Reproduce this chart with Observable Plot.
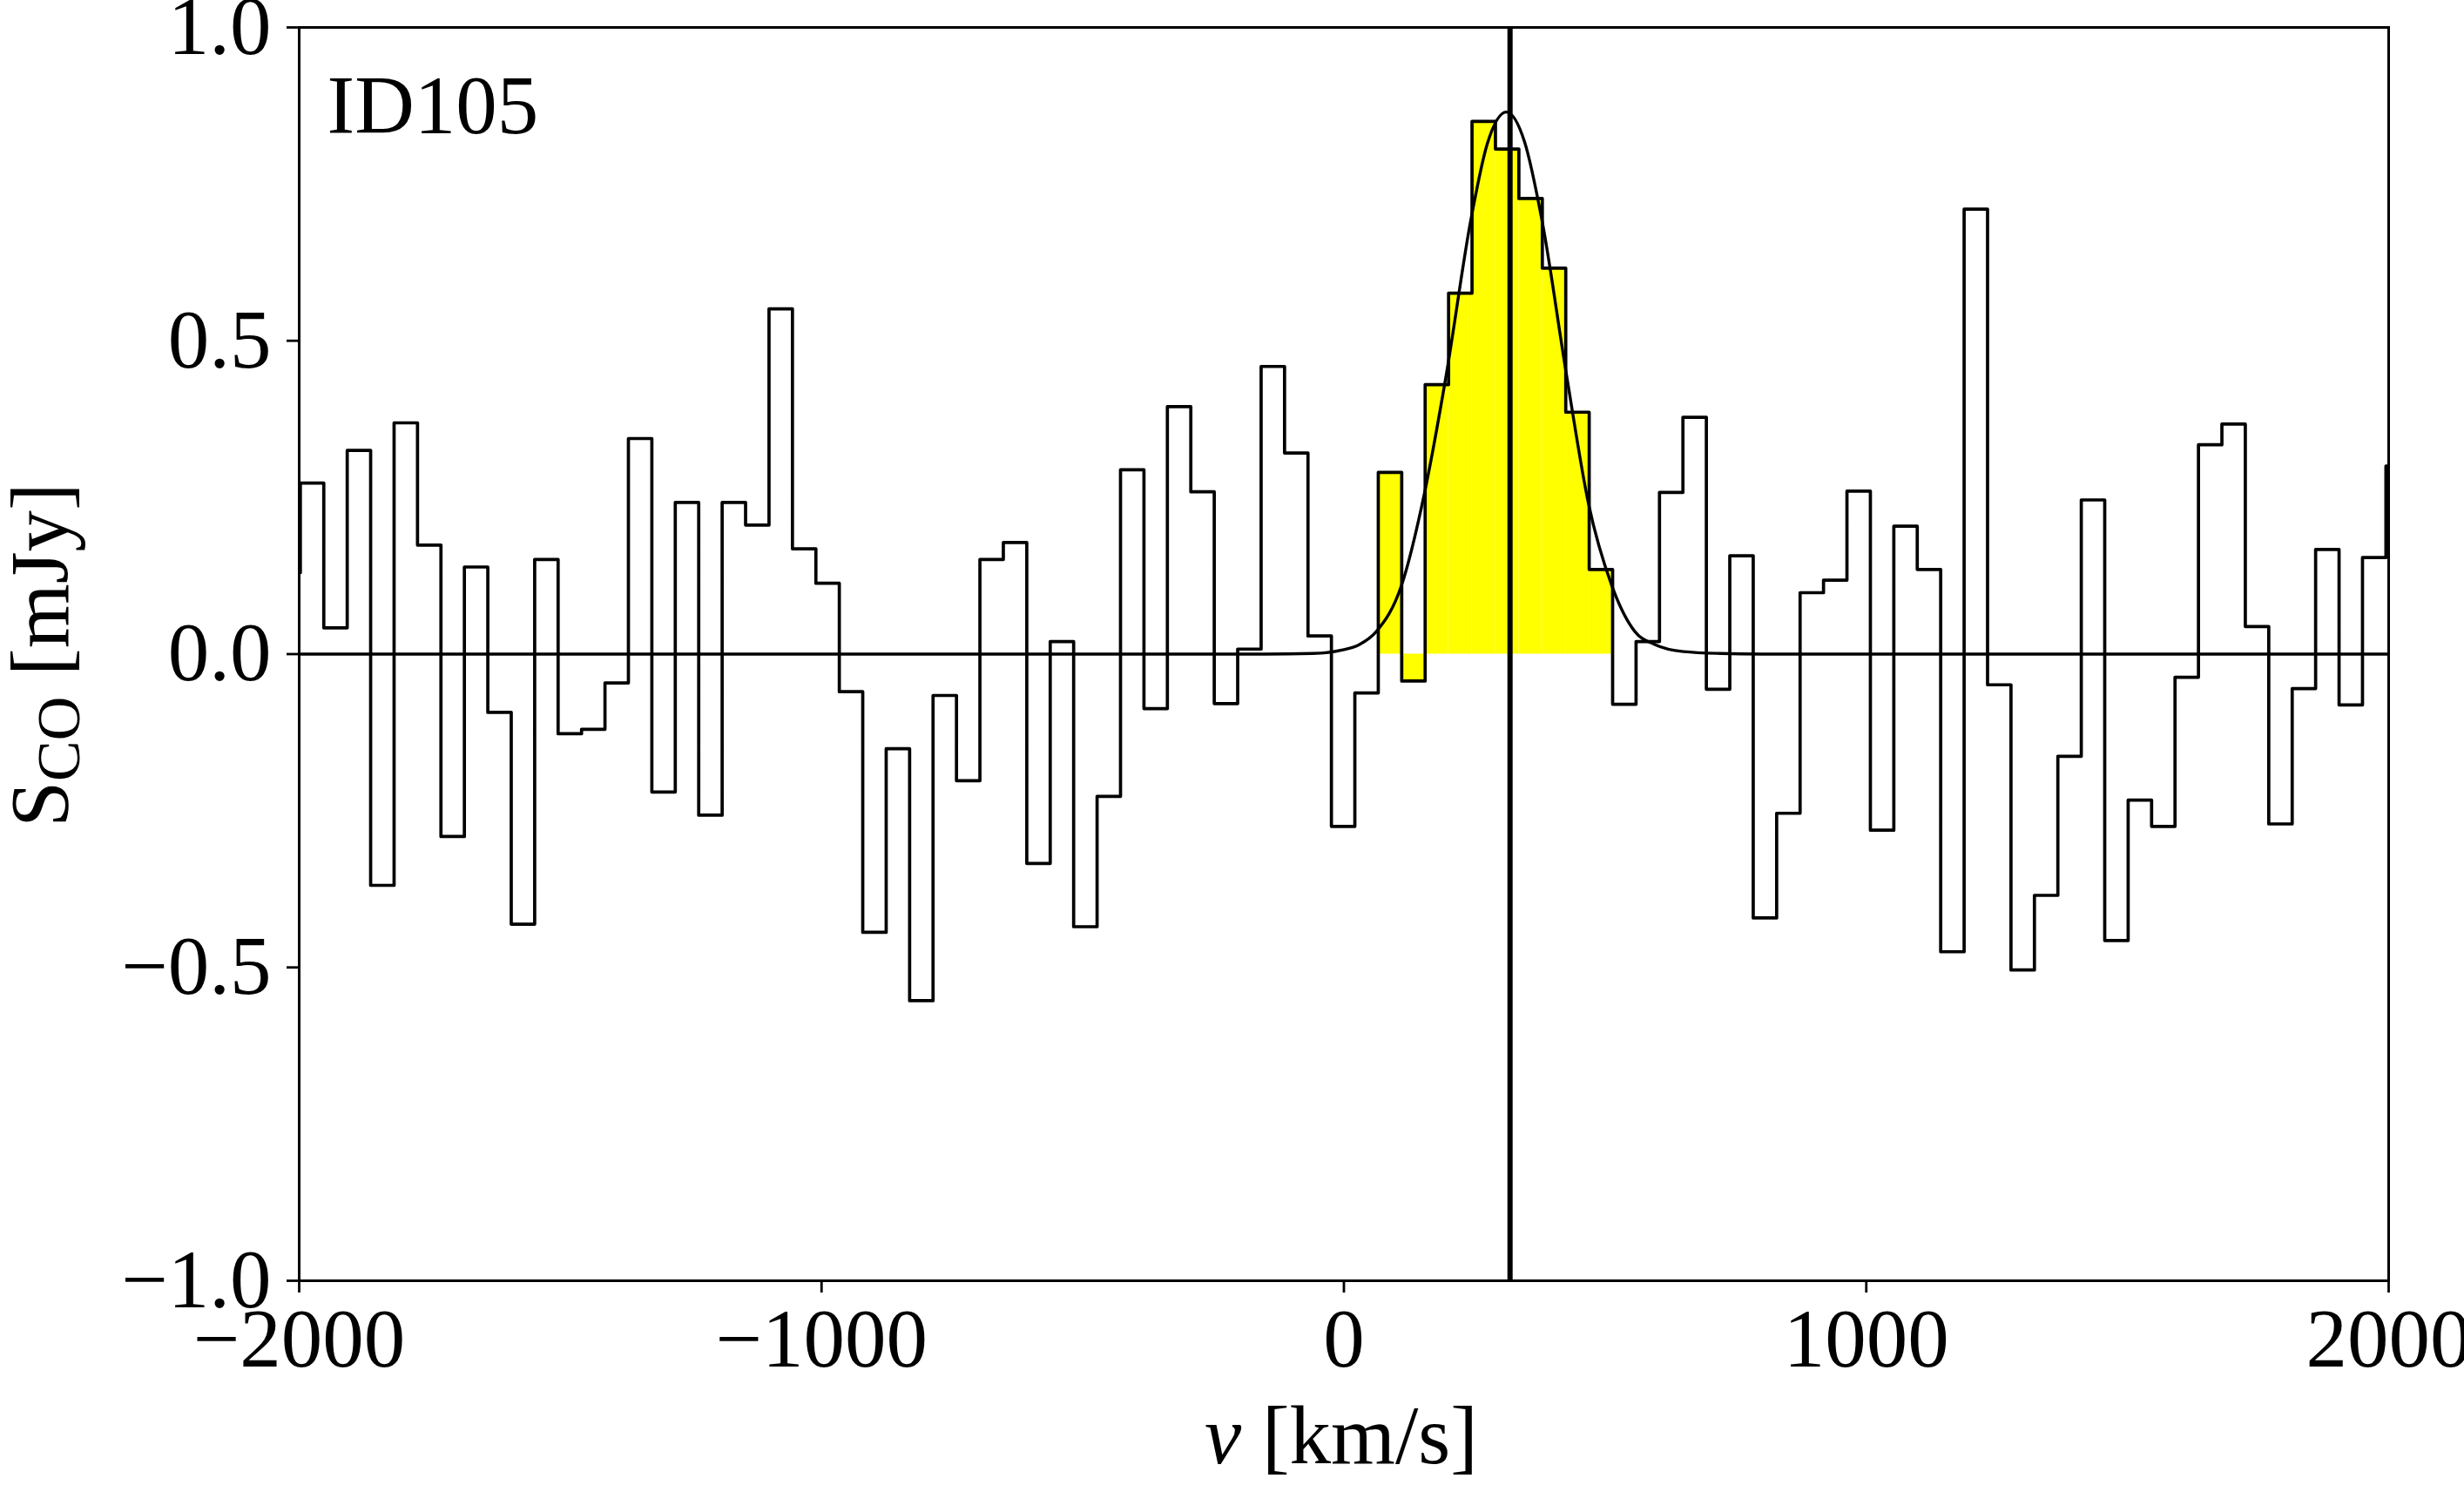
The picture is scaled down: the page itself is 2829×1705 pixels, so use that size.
<!DOCTYPE html>
<html>
<head>
<meta charset="utf-8">
<script src="https://cdn.jsdelivr.net/npm/d3@7"></script>
<script src="https://cdn.jsdelivr.net/npm/@observablehq/plot@0.6"></script>
<style>
  html, body { margin: 0; padding: 0; background: #fff; overflow: hidden; }
  svg { display: block; }
</style>
</head>
<body>
<div id="chart"></div>
<script>
// ---- data ----
const sourceName = "ID105";
// channel grid of the spectrum (km/s): centre of first channel and channel width
const channelStart = -2020.2;
const channelWidth = 44.86;
// flux density per channel (mJy)
const flux = [
  0.130, 0.273, 0.042, 0.325, -0.369, 0.369, 0.174, -0.291, 0.139, -0.093,
  -0.431, 0.151, -0.127, -0.120, -0.046, 0.344, -0.220, 0.242, -0.257, 0.242,
  0.206, 0.551, 0.168, 0.113, -0.060, -0.444, -0.151, -0.553, -0.066, -0.202,
  0.151, 0.178, -0.334, 0.020, -0.435, -0.227, 0.294, -0.087, 0.395, 0.259,
  -0.079, 0.008, 0.459, 0.321, 0.029, -0.275, -0.062, 0.290, -0.043, 0.430,
  0.576, 0.850, 0.806, 0.727, 0.616, 0.386, 0.135, -0.080, 0.020, 0.258,
  0.378, -0.056, 0.157, -0.421, -0.254, 0.098, 0.118, 0.260, -0.281, 0.204,
  0.135, -0.475, 0.710, -0.049, -0.504, -0.385, -0.163, 0.246, -0.457, -0.233,
  -0.275, -0.037, 0.334, 0.367, 0.044, -0.271, -0.055, 0.167, -0.081, 0.154,
  0.300
];
// Gaussian fit curve
const fitVelocity = [-2000, -150, -60, 0, 29, 62, 110, 154, 196, 243, 274, 311, 346, 379, 426, 468, 513, 557, 596, 650, 720, 800, 2000];
const fitFlux     = [0, 0, 0.001, 0.007, 0.015, 0.036, 0.109, 0.256, 0.446, 0.693, 0.813, 0.865, 0.817, 0.693, 0.446, 0.241, 0.109, 0.036, 0.015, 0.004, 0.001, 0, 0];
// expected line centre (km/s) and the velocity window of the shaded channels
const lineCentre = 318;
const lineWindow = [60, 510];
// axes
const xDomain = [-2000, 2000];
const yDomain = [-1, 1];
const xTicks = [-2000, -1000, 0, 1000, 2000];
const yTicks = [-1, -0.5, 0, 0.5, 1];

// ---- tables built from the arrays ----
const spectrum = flux.map((f, i) => ({v: channelStart + i * channelWidth, f}));
const shaded = spectrum.filter(d => d.v >= lineWindow[0] && d.v <= lineWindow[1]);
const fit = fitVelocity.map((v, i) => ({v, f: fitFlux[i]}));

const FONT = "Liberation Serif, 'Times New Roman', serif";
const FS = 95;

const svg = Plot.plot({
  width: 2829,
  height: 1705,
  marginLeft: 343,
  marginRight: 87,
  marginTop: 31,
  marginBottom: 235,
  style: {fontFamily: FONT, fontSize: FS + "px", background: "#fff", color: "#000"},
  x: {domain: xDomain, label: null},
  y: {domain: yDomain, label: null},
  marks: [
    Plot.rect(shaded, {
      x1: d => d.v - channelWidth / 2,
      x2: d => d.v + channelWidth / 2,
      y1: 0,
      y2: "f",
      fill: "#ffff00"
    }),
    Plot.line(spectrum, {x: "v", y: "f", curve: "step", stroke: "#000", strokeWidth: 3.7, clip: true}),
    Plot.line(fit, {x: "v", y: "f", curve: "monotone-x", stroke: "#000", strokeWidth: 3.4, clip: true}),
    Plot.ruleX([lineCentre], {stroke: "#000", strokeWidth: 6}),
    Plot.frame({stroke: "#000", strokeWidth: 3}),
    Plot.axisX({ticks: xTicks, tickSize: 14, tickPadding: 17, strokeWidth: 2.8, fontSize: FS, label: null, tickFormat: d3.format("d")}),
    Plot.axisY({ticks: yTicks, tickSize: 14, tickPadding: 18, strokeWidth: 2.8, fontSize: FS, label: null, tickFormat: d3.format(".1f")}),
    Plot.text([sourceName], {frameAnchor: "top-left", dx: 32, dy: 54, lineAnchor: "top", textAnchor: "start", fontSize: FS, fill: "#000"})
  ]
});

const s = d3.select(svg);
// y axis label: S_CO [mJy]
const yl = s.append("text")
  .attr("transform", "translate(78,752) rotate(-90)")
  .attr("text-anchor", "middle")
  .attr("font-family", FONT)
  .attr("font-size", FS)
  .attr("fill", "#000");
yl.append("tspan").text("S");
yl.append("tspan").attr("font-size", 70).attr("dy", 13).text("CO");
yl.append("tspan").attr("dy", -13).text("\u00a0[mJy]");

// x axis label: v [km/s]
const xl = s.append("text")
  .attr("x", 1540)
  .attr("y", 1680)
  .attr("text-anchor", "middle")
  .attr("font-family", FONT)
  .attr("font-size", FS)
  .attr("fill", "#000");
xl.append("tspan").attr("font-style", "italic").text("v");
xl.append("tspan").text("\u00a0[km/s]");

document.getElementById("chart").appendChild(svg);
</script>
</body>
</html>
